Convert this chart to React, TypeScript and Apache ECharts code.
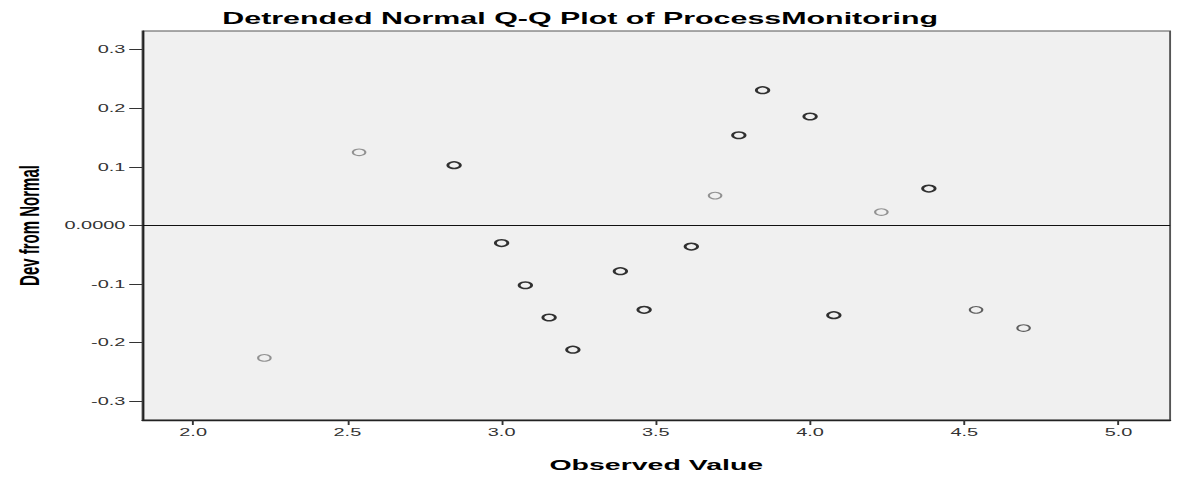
import React, { useEffect, useRef } from "react";
import * as echarts from "echarts";

// ---- data ----
const observedValues = [
  2.231, 2.538, 2.846, 3.0, 3.077, 3.154, 3.231, 3.385, 3.462, 3.615,
  3.692, 3.769, 3.846, 4.0, 4.077, 4.231, 4.385, 4.538, 4.692,
];
const devFromNormal = [
  -0.226, 0.125, 0.103, -0.030, -0.102, -0.157, -0.212, -0.078, -0.144, -0.036,
  0.051, 0.154, 0.231, 0.186, -0.153, 0.023, 0.063, -0.144, -0.175,
];
const pointTones = [
  "light", "light", "dark", "dark", "dark", "dark", "dark", "dark", "dark", "dark",
  "light", "dark", "dark", "dark", "dark", "light", "dark", "medium", "medium",
];
const xTickValues = [2.0, 2.5, 3.0, 3.5, 4.0, 4.5, 5.0];
const yTickValues = [-0.3, -0.2, -0.1, 0, 0.1, 0.2, 0.3];
const titleText = "Detrended Normal Q-Q Plot of ProcessMonitoring";
const xAxisTitle = "Observed Value";
const yAxisTitle = "Dev from Normal";

// ---- layout ----
const FULL_W = 1177;
const FULL_H = 477;
const STRETCH = 1.9; // reference is horizontally stretched
const W = FULL_W / STRETCH;
const FONT = "'Liberation Sans', Arial, sans-serif";

const toneStyles: Record<string, { borderColor: string; borderWidth: number }> = {
  light: { borderColor: "#7a7a7a", borderWidth: 1.1 },
  medium: { borderColor: "#3a3a3a", borderWidth: 1.1 },
  dark: { borderColor: "#000000", borderWidth: 1.5 },
};

export default function App() {
  const ref = useRef<HTMLDivElement | null>(null);

  useEffect(() => {
    if (!ref.current) return;
    const chart = echarts.init(ref.current, null, { renderer: "svg" });
    const points = observedValues.map((x, i) => ({
      value: [x, devFromNormal[i]],
      itemStyle: { color: "transparent", ...toneStyles[pointTones[i]] },
    }));

    chart.setOption({
      animation: false,
      backgroundColor: "#ffffff",
      title: {
        text: titleText,
        left: 117,
        top: 10,
        padding: 0,
        textStyle: { fontSize: 16, fontWeight: "bold", color: "#000", fontFamily: FONT },
      },
      grid: {
        left: 70,
        right: W - 1171 / STRETCH,
        top: 31,
        bottom: 54,
        show: true,
        backgroundColor: "#f0f0f0",
        borderColor: "#555",
        borderWidth: 1,
        containLabel: false,
      },
      xAxis: {
        type: "value",
        min: 1.836,
        max: 5.167,
        name: xAxisTitle,
        nameLocation: "middle",
        nameGap: 37,
        nameTextStyle: { fontSize: 15, fontWeight: "bold", color: "#000", fontFamily: FONT },
        axisLine: { show: true, onZero: false, lineStyle: { color: "#222", width: 1.3 } },
        axisTick: { show: true, customValues: xTickValues, length: 5, lineStyle: { color: "#333", width: 1 } },
        axisLabel: {
          customValues: xTickValues,
          formatter: (v: number) => v.toFixed(1),
          margin: 7,
          fontSize: 10.5,
          color: "#333",
          fontFamily: FONT,
        },
        splitLine: { show: false },
      },
      yAxis: {
        type: "value",
        min: -0.332,
        max: 0.332,
        name: yAxisTitle,
        nameLocation: "middle",
        nameGap: 49,
        nameTextStyle: { fontSize: 15, fontWeight: "bold", color: "#000", fontFamily: FONT },
        axisLine: { show: true, onZero: false, lineStyle: { color: "#222", width: 1 } },
        axisTick: { show: true, customValues: yTickValues, length: 7, lineStyle: { color: "#333", width: 1 } },
        axisLabel: {
          customValues: yTickValues,
          formatter: (v: number) => (Math.abs(v) < 1e-9 ? "0.0000" : v.toFixed(1)),
          margin: 9,
          fontSize: 10.5,
          color: "#333",
          fontFamily: FONT,
        },
        splitLine: { show: false },
      },
      series: [
        {
          type: "scatter",
          symbol: "circle",
          symbolSize: 6.6,
          data: points,
          markLine: {
            silent: true,
            symbol: ["none", "none"],
            label: { show: false },
            lineStyle: { color: "#111", width: 1, type: "solid" },
            data: [{ yAxis: 0 }],
          },
        },
      ],
    });

    return () => chart.dispose();
  }, []);

  return (
    <div
      style={{
        position: "absolute",
        left: 0,
        top: 0,
        width: FULL_W,
        height: FULL_H,
        overflow: "hidden",
        background: "#fff",
      }}
    >
      <div
        ref={ref}
        style={{
          width: W,
          height: FULL_H,
          transform: `scaleX(${STRETCH})`,
          transformOrigin: "0 0",
        }}
      />
    </div>
  );
}
